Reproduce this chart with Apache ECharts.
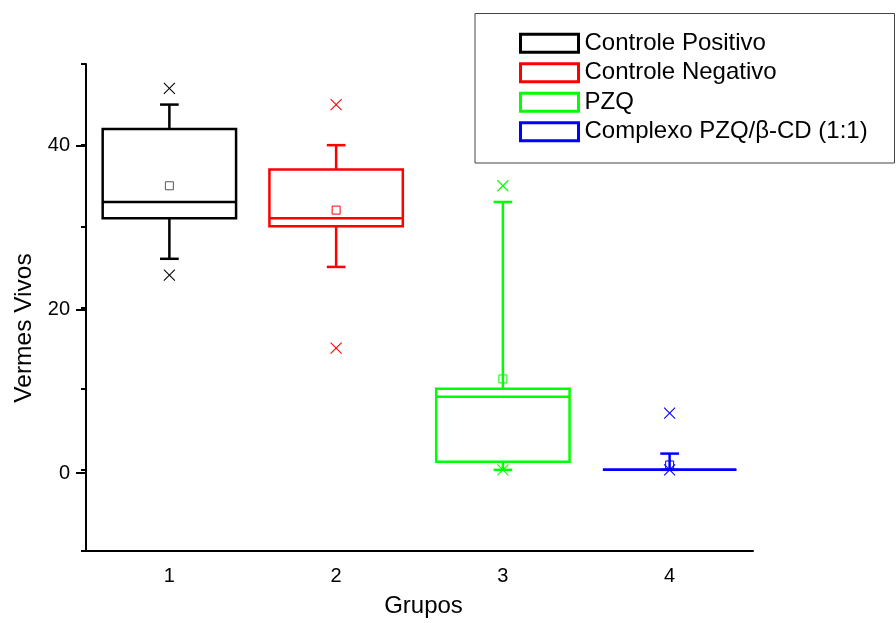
<!DOCTYPE html>
<html>
<head>
<meta charset="utf-8">
<script src="https://cdn.jsdelivr.net/npm/echarts@6/dist/echarts.min.js"></script>
<style>
html,body{margin:0;padding:0;background:#fff;overflow:hidden;}
#main{width:896px;height:623px;}
</style>
</head>
<body>
<div id="main"></div>
<script>
// ---- data ----
const categories = ['1', '2', '3', '4'];
const seriesNames = ['Controle Positivo', 'Controle Negativo', 'PZQ', 'Complexo PZQ/\u03b2-CD (1:1)'];
const seriesColors = ['#000000', '#ff0000', '#00ff00', '#0000ff'];
const whiskerLow  = [26, 25, 0, 0];
const q1          = [31, 30, 1, 0];
const median      = [33, 31, 9, 0];
const q3          = [42, 37, 10, 0];
const whiskerHigh = [45, 40, 33, 2];
const meanValues  = [35, 32, 11.2, 0.6];
const minMarks    = [24, 15, 0, 0];
const maxMarks    = [47, 45, 35, 7];
const yTicksMajor = [0, 20, 40];

const FONT = '"Liberation Sans", Arial, Helvetica, sans-serif';

function renderBox(params, api) {
  const color = seriesColors[params.seriesIndex];
  const cat = api.value(0);
  const band = api.size([1, 0])[0];
  const half = band * 0.4;
  const capHalf = band * 0.056;
  const cx = api.coord([cat, 0])[0];
  const y = i => api.coord([cat, api.value(i)])[1];
  const yWl = y(1), yQ1 = y(2), yMed = y(3), yQ3 = y(4), yWh = y(5), yMean = y(6), yLo = y(7), yHi = y(8);
  const line = (x1, y1, x2, y2, w, c) => ({
    type: 'line', shape: {x1, y1, x2, y2},
    style: {stroke: c || color, lineWidth: w || 2.5, fill: null}
  });
  const cross = (yy) => ({
    type: 'group', children: [
      line(cx - 5.5, yy - 5.5, cx + 5.5, yy + 5.5, 1.1),
      line(cx - 5.5, yy + 5.5, cx + 5.5, yy - 5.5, 1.1)
    ]
  });
  const children = [
    line(cx, yQ3, cx, yWh),
    line(cx - capHalf, yWh, cx + capHalf, yWh),
    line(cx, yQ1, cx, yWl),
    line(cx - capHalf, yWl, cx + capHalf, yWl),
    {type: 'rect', shape: {x: cx - half, y: yQ3, width: 2 * half, height: yQ1 - yQ3},
     style: {fill: null, stroke: color, lineWidth: 2.5}},
    line(cx - half, yMed, cx + half, yMed),
    {type: 'rect', shape: {x: cx - 4, y: yMean - 4, width: 8, height: 8},
     style: {fill: null, stroke: params.seriesIndex === 0 ? '#555' : color, lineWidth: 1}},
    cross(yLo),
    cross(yHi)
  ];
  return {type: 'group', children};
}

const series = seriesNames.map((name, i) => ({
  name: name,
  type: 'custom',
  xAxisIndex: 0,
  yAxisIndex: 0,
  renderItem: renderBox,
  itemStyle: {color: seriesColors[i]},
  clip: false,
  encode: {x: 0, y: [1, 2, 3, 4, 5]},
  data: [[i, whiskerLow[i], q1[i], median[i], q3[i], whiskerHigh[i], meanValues[i], minMarks[i], maxMarks[i]]]
}));

const chart = echarts.init(document.getElementById('main'), null, {renderer: 'canvas', width: 896, height: 623});
chart.setOption({
  animation: false,
  backgroundColor: '#ffffff',
  textStyle: {fontFamily: FONT},
  grid: [
    {left: 86, width: 667, top: 64, height: 491},
    {left: 86, width: 667, top: 145.83, height: 327.33}
  ],
  xAxis: [
    {
      type: 'category', gridIndex: 0, data: categories, boundaryGap: true,
      name: 'Grupos', nameLocation: 'middle', nameGap: 43,
      nameTextStyle: {fontSize: 24, color: '#000', fontFamily: FONT, padding: [0, 0, 0, 8]},
      axisLine: {onZero: false, lineStyle: {color: '#000', width: 2}},
      axisTick: {alignWithLabel: true, length: 8, lineStyle: {color: '#000', width: 2}},
      axisLabel: {fontSize: 20, color: '#000', margin: 15, fontFamily: FONT},
      splitLine: {show: false}
    },
    {
      type: 'category', gridIndex: 1, data: categories, show: false
    }
  ],
  yAxis: [
    {
      type: 'value', gridIndex: 0, min: -10, max: 50, interval: 10,
      axisLine: {show: true, onZero: false, lineStyle: {color: '#000', width: 2}},
      axisTick: {show: true, length: 5, lineStyle: {color: '#000', width: 2}},
      axisLabel: {show: false},
      splitLine: {show: false}
    },
    {
      type: 'value', gridIndex: 1, min: yTicksMajor[0], max: yTicksMajor[yTicksMajor.length - 1], interval: 20,
      axisLine: {show: false, onZero: false},
      axisTick: {show: true, length: 10, lineStyle: {color: '#000', width: 2}},
      axisLabel: {fontSize: 20, color: '#000', margin: 16, fontFamily: FONT},
      splitLine: {show: false}
    }
  ],
  legend: {
    left: 519, top: 31.3, orient: 'vertical', padding: 0,
    itemGap: 5.45, itemWidth: 58, itemHeight: 18,
    selectedMode: false,
    textStyle: {fontSize: 24, color: '#000', lineHeight: 24, fontFamily: FONT, padding: [0, 0, 0, 1]},
    data: seriesNames.map((n, i) => ({
      name: n, icon: 'rect',
      itemStyle: {color: '#ffffff', borderColor: seriesColors[i], borderWidth: 3}
    }))
  },
  graphic: [
    {type: 'rect', z: 0, shape: {x: 475, y: 13.5, width: 419.5, height: 149.5},
     style: {fill: null, stroke: '#444', lineWidth: 1}},
    {type: 'text', x: 24, y: 328, rotation: Math.PI / 2,
     style: {text: 'Vermes Vivos', fontSize: 24.5, fill: '#000', fontFamily: FONT,
             textAlign: 'center', textVerticalAlign: 'middle'}}
  ],
  series: series
});
</script>
</body>
</html>
